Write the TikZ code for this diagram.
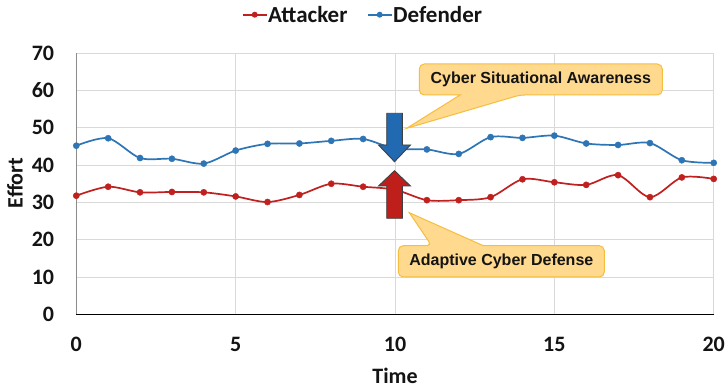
\documentclass[tikz,border=0pt]{standalone}
\usepackage{fontspec}
\setmainfont{Carlito}
\newfontfamily\calloutfont{Liberation Sans}
\definecolor{attred}{HTML}{C0211F}
\definecolor{defblue}{HTML}{2E75B6}
\definecolor{arrblue}{HTML}{2169B1}
\definecolor{arrred}{HTML}{BF1F1A}
\definecolor{gridgray}{HTML}{D9D9D9}
\definecolor{axisgray}{HTML}{8C8C8C}
\definecolor{calfill}{HTML}{FFD98E}
\definecolor{caldraw}{HTML}{F5BE3E}
\definecolor{txtblack}{HTML}{141414}
\tikzset{
  gridline/.style={draw=gridgray, line width=0.9pt},
  yaxisline/.style={draw=axisgray, line width=0.9pt},
  xaxisline/.style={draw=black, line width=1.5pt},
  ticklbl/.style={font=\fontsize{22}{25}\selectfont\bfseries, text=txtblack, inner sep=0pt},
  axistitle/.style={font=\fontsize{22}{25}\selectfont\bfseries, text=txtblack, inner sep=0pt},
  legendtext/.style={font=\fontsize{23}{26}\selectfont\bfseries, text=txtblack, inner sep=0pt, anchor=west},
  attline/.style={draw=attred, line width=1.7pt},
  defline/.style={draw=defblue, line width=1.7pt},
  calloutbox/.style={fill=calfill, draw=caldraw, line width=1pt},
  callouttext/.style={font=\calloutfont\fontsize{16}{19}\selectfont\bfseries, text=txtblack, inner sep=0pt},
  bigarrow/.style={draw=black!75, line width=0.9pt, line join=miter},
}
\begin{document}
\begin{tikzpicture}[x=1pt,y=1pt]
\useasboundingbox[fill=white] (0,0) rectangle (727,388);
% legend
\draw[attline] (242.7,373.3) coordinate (lA1) -- (266.7,373.3) coordinate (lA2);
\fill[attred] (254.7,373.3) circle (3);
\node[legendtext] (legA) at (268,373.3) {Attacker};
\draw[defline] (367.7,373.3) coordinate (lD1) -- (391.7,373.3) coordinate (lD2);
\fill[defblue] (379.7,373.3) circle (3);
\node[legendtext] (legD) at (393,373.3) {Defender};
% axis titles
\node[axistitle] (ttime) at (395,12.3) {Time};
\node[axistitle, rotate=90] (teffort) at (15,205) {Effort};
\begin{scope}[shift={(76.3,73.7)}, x=31.87pt, y=3.73pt]
  \foreach \yv in {10,20,...,70} \draw[gridline] (0,\yv) -- (20,\yv);
  \foreach \xv in {5,10,15,20} \draw[gridline] (\xv,0) -- (\xv,70);
  \draw[yaxisline] (0,0) -- (0,70);
  \draw[xaxisline] (0,0) -- (20,0);
  \foreach \yv in {0,10,...,70}
    \node[ticklbl, anchor=east] (ytick\yv) at ([xshift=-22pt]0,\yv) {\yv};
  \foreach \xv in {0,5,...,20}
    \node[ticklbl] (xtick\xv) at ([yshift=-30.5pt]\xv,0) {\xv};
  % attacker
  \draw[attline, mark=*, mark size=3.1pt, mark options={fill=attred, draw=attred, line width=0.4pt}]
    plot[smooth, tension=0.5] coordinates {(0,31.8) (1,34.2) (2,32.7) (3,32.8) (4,32.7) (5,31.6) (6,30.1) (7,32.0) (8,35.0) (9,34.2) (10,33.4) (11,30.6) (12,30.6) (13,31.4) (14,36.2) (15,35.4) (16,34.7) (17,37.3) (18,31.4) (19,36.7) (20,36.3)};
  % defender
  \draw[defline, mark=*, mark size=3.1pt, mark options={fill=defblue, draw=defblue, line width=0.4pt}]
    plot[smooth, tension=0.5] coordinates {(0,45.2) (1,47.2) (2,41.9) (3,41.7) (4,40.4) (5,43.9) (6,45.7) (7,45.8) (8,46.5) (9,47.0) (10,44.4) (11,44.2) (12,43.0) (13,47.5) (14,47.3) (15,47.9) (16,45.8) (17,45.4) (18,45.9) (19,41.3) (20,40.6)};
\end{scope}
% arrows
\draw[bigarrow, fill=arrblue] (386.7,274.7) -- (402.3,274.7) -- (402.3,243) -- (410.5,243) -- (394.5,226.3) -- (378.5,243) -- (386.7,243) -- cycle;
\draw[bigarrow, fill=arrred] (386.7,169.7) -- (402.3,169.7) -- (402.3,202) -- (410.5,202) -- (394.5,217.3) -- (378.5,202) -- (386.7,202) -- cycle;
% callouts
\draw[calloutbox] (419.3,308.5) [rounded corners=5pt] -- (419.3,324) -- (662.3,324) -- (662.3,293) -- (520,293) [sharp corners] -- (406.7,259.7) -- (460,293) [rounded corners=5pt] -- (419.3,293) -- cycle;
\node[callouttext] (csa) at (540.8,308.5) {Cyber Situational Awareness};
\draw[calloutbox] (398.3,126.7) [rounded corners=5pt] -- (398.3,142.3) -- (431.7,142.3) [sharp corners] -- (409.3,175.3) -- (483.3,142.3) [rounded corners=5pt] -- (604.3,142.3) -- (604.3,111) -- (398.3,111) -- cycle;
\node[callouttext] (acd) at (501.3,126.7) {Adaptive Cyber Defense};
\end{tikzpicture}
\end{document}
